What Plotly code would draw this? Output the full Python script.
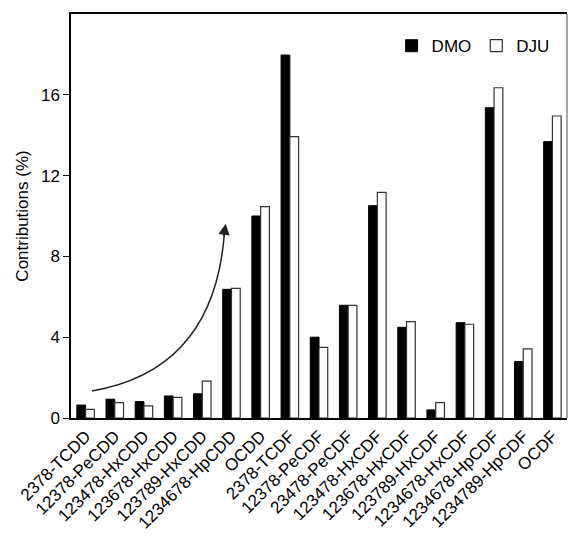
import plotly.graph_objects as go

categories = ["2378-TCDD", "12378-PeCDD", "123478-HxCDD", "123678-HxCDD", "123789-HxCDD",
              "1234678-HpCDD", "OCDD", "2378-TCDF", "12378-PeCDF", "23478-PeCDF",
              "123478-HxCDF", "123678-HxCDF", "123789-HxCDF", "1234678-HxCDF",
              "1234678-HpCDF", "1234789-HpCDF", "OCDF"]
dmo = [0.64, 0.93, 0.81, 1.09, 1.20, 6.37, 10.0, 17.97, 4.0, 5.58, 10.51, 4.49, 0.40, 4.72, 15.36, 2.79, 13.68]
dju = [0.43, 0.76, 0.60, 1.02, 1.83, 6.42, 10.46, 13.93, 3.50, 5.58, 11.17, 4.77, 0.76, 4.64, 16.35, 3.42, 14.95]
y_ticks = [0, 4, 8, 12, 16]

xpos = list(range(len(categories)))
font = "Liberation Sans, Arial, sans-serif"

fig = go.Figure()
fig.add_trace(go.Bar(x=xpos, y=dmo, name="DMO",
                     marker=dict(color="black", line=dict(color="black", width=1))))
fig.add_trace(go.Bar(x=xpos, y=dju, name="DJU",
                     marker=dict(color="white", line=dict(color="#333333", width=1.2))))

# curved trend arrow
fig.add_shape(type="path", xref="x", yref="y",
              path="M 0.22,1.34 Q 4.42,2.38 4.76,9.20",
              line=dict(color="#222222", width=1.5))
fig.add_annotation(x=4.80, y=9.62, xref="x", yref="y", text="", showarrow=True,
                   ax=-2, ay=14, arrowhead=2, arrowsize=1.5, arrowwidth=1.5,
                   arrowcolor="#222222")

# right border (gray)
fig.add_shape(type="line", xref="paper", yref="paper", x0=1, x1=1, y0=0, y1=1,
              line=dict(color="#888888", width=1.5))

fig.update_layout(
    width=571, height=535,
    margin=dict(l=71, r=4, t=14, b=117, autoexpand=False),
    paper_bgcolor="white", plot_bgcolor="white",
    barmode="group", bargap=0.4, bargroupgap=0,
    font=dict(family=font, size=17, color="black"),
    showlegend=True,
    legend=dict(orientation="h", x=0.975, xanchor="right", y=0.965, yanchor="top",
                font=dict(size=17), bgcolor="rgba(0,0,0,0)",
                itemwidth=30, traceorder="normal"),
    xaxis=dict(range=[-0.5, len(categories) - 0.5], tickvals=xpos, ticktext=categories,
               tickangle=-45, showline=True, linecolor="black", linewidth=1.5,
               mirror=True, ticks="", ticklabelstandoff=0, showgrid=False, zeroline=False,
               tickfont=dict(size=17), automargin=False),
    yaxis=dict(range=[0, 20], tickvals=y_ticks, showline=True, linecolor="black",
               linewidth=1.5, ticks="outside", ticklen=6, tickcolor="black",
               showgrid=False, zeroline=False, tickfont=dict(size=17), automargin=False,
               title=dict(text="Contributions (%)", font=dict(size=17), standoff=8)),
)

fig.write_html("out.html")
